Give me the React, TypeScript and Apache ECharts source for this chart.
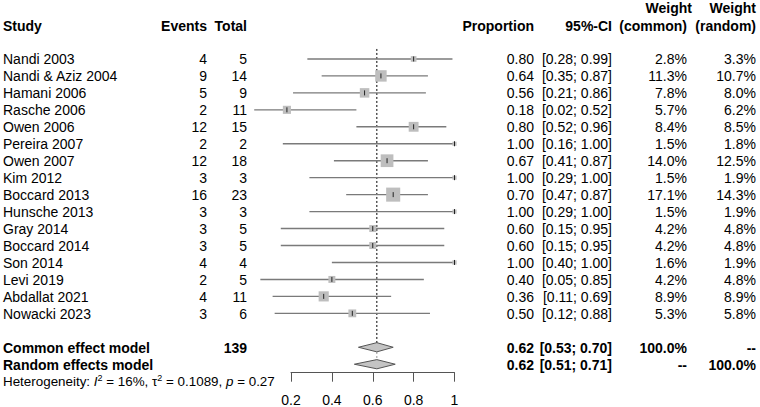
import React, { useEffect, useRef } from "react";
import * as echarts from "echarts";

const studies = [
  "Nandi 2003", "Nandi & Aziz 2004", "Hamani 2006", "Rasche 2006", "Owen 2006",
  "Pereira 2007", "Owen 2007", "Kim 2012", "Boccard 2013", "Hunsche 2013",
  "Gray 2014", "Boccard 2014", "Son 2014", "Levi 2019", "Abdallat 2021", "Nowacki 2023",
];
const events = [4, 9, 5, 2, 12, 2, 12, 3, 16, 3, 3, 3, 4, 2, 4, 3];
const totals = [5, 14, 9, 11, 15, 2, 18, 3, 23, 3, 5, 5, 4, 5, 11, 6];
const proportions = [0.80, 0.64, 0.56, 0.18, 0.80, 1.00, 0.67, 1.00, 0.70, 1.00, 0.60, 0.60, 1.00, 0.40, 0.36, 0.50];
const lowerCI = [0.28, 0.35, 0.21, 0.02, 0.52, 0.16, 0.41, 0.29, 0.47, 0.29, 0.15, 0.15, 0.40, 0.05, 0.11, 0.12];
const upperCI = [0.99, 0.87, 0.86, 0.52, 0.96, 1.00, 0.87, 1.00, 0.87, 1.00, 0.95, 0.95, 1.00, 0.85, 0.69, 0.88];
const weightCommon = [2.8, 11.3, 7.8, 5.7, 8.4, 1.5, 14.0, 1.5, 17.1, 1.5, 4.2, 4.2, 1.6, 4.2, 8.9, 5.3];
const weightRandom = [3.3, 10.7, 8.0, 6.2, 8.5, 1.8, 12.5, 1.9, 14.3, 1.9, 4.8, 4.8, 1.9, 4.8, 8.9, 5.8];

const modelNames = ["Common effect model", "Random effects model"];
const modelEst = [0.62, 0.62];
const modelLower = [0.53, 0.51];
const modelUpper = [0.70, 0.71];
const modelWeightCommon = ["100.0%", "--"];
const modelWeightRandom = ["--", "100.0%"];

const xTicks = [0.2, 0.4, 0.6, 0.8, 1];

const FONT = "'Liberation Sans', Arial, Helvetica, sans-serif";
const colX = { study: 3, events: 207, total: 247, prop: 534, ci: 612, wc: 687, wr: 756 };

export default function App() {
  const ref = useRef<HTMLDivElement>(null);
  useEffect(() => {
    if (!ref.current) return;
    const chart = echarts.init(ref.current, null, { renderer: "svg" });

    const totalN = totals.reduce((a, b) => a + b, 0);
    const rowsText: { row: number; bold: boolean; cells: string[] }[] = [];
    studies.forEach((s, i) => {
      rowsText.push({
        row: i,
        bold: false,
        cells: [
          s,
          String(events[i]),
          String(totals[i]),
          proportions[i].toFixed(2),
          `[${lowerCI[i].toFixed(2)}; ${upperCI[i].toFixed(2)}]`,
          weightCommon[i].toFixed(1) + "%",
          weightRandom[i].toFixed(1) + "%",
        ],
      });
    });
    modelNames.forEach((m, k) => {
      rowsText.push({
        row: studies.length + 1 + k,
        bold: true,
        cells: [
          m,
          "",
          k === 0 ? String(totalN) : "",
          modelEst[k].toFixed(2),
          `[${modelLower[k].toFixed(2)}; ${modelUpper[k].toFixed(2)}]`,
          modelWeightCommon[k],
          modelWeightRandom[k],
        ],
      });
    });
    const xs = [colX.study, colX.events, colX.total, colX.prop, colX.ci, colX.wc, colX.wr];
    const aligns = ["left", "right", "right", "right", "right", "right", "right"];

    const txt = (text: string, x: number, y: number, align: string, bold = false, size = 14) => ({
      type: "text",
      x,
      y,
      style: {
        text,
        fill: "#000",
        font: `${bold ? "bold " : ""}${size}px ${FONT}`,
        textAlign: align,
        textVerticalAlign: "middle",
        align,
        verticalAlign: "middle",
      },
    });

    // rows are plotted at y = -rowIndex (top row 0)
    const rc = (api: any, x: number, row: number) => api.coord([x, -row]);

    const option: any = {
      animation: false,
      grid: { left: 291, top: 42, width: 163.5, height: 330.7 },
      xAxis: {
        type: "value",
        position: "bottom",
        min: 0.2,
        max: 1,
        interval: 0.2,
        axisLine: { show: true, onZero: false, lineStyle: { color: "#555", width: 1 } },
        axisTick: { show: true, inside: false, length: 9, lineStyle: { color: "#555" } },
        axisLabel: {
          margin: 20,
          fontSize: 14,
          color: "#000",
          fontFamily: FONT,
          formatter: (v: number) => {
            const t = xTicks.find((x) => Math.abs(x - v) < 1e-6);
            return t === undefined ? "" : String(t);
          },
        },
        splitLine: { show: false },
      },
      yAxis: { type: "value", min: -18.5, max: 1, show: false },
      graphic: [
        txt("Study", colX.study, 26, "left", true),
        txt("Events", colX.events, 26, "right", true),
        txt("Total", colX.total, 26, "right", true),
        txt("Proportion", colX.prop, 26, "right", true),
        txt("95%-CI", colX.ci, 26, "right", true),
        txt("Weight", 692, 8, "right", true),
        txt("(common)", colX.wc, 26, "right", true),
        txt("Weight", colX.wr, 8, "right", true),
        txt("(random)", colX.wr, 26, "right", true),
        {
          type: "text",
          x: 3,
          y: 381,
          style: {
            text: "Heterogeneity: {it|I}{sup|2} = 16%, {n|τ}{sup|2} = 0.1089, {it|p} = 0.27",
            font: `13.4px ${FONT}`,
            fill: "#000",
            textVerticalAlign: "middle",
            verticalAlign: "middle",
            rich: {
              it: { fontStyle: "italic", fontSize: 13.4, fontFamily: FONT, lineHeight: 16 },
              n: { fontSize: 13.4, fontFamily: FONT, lineHeight: 16 },
              sup: { fontSize: 9, fontFamily: FONT, verticalAlign: "top", lineHeight: 16, padding: [0, 0, 6, 0] },
            },
          },
        },
      ],
      series: [
        {
          type: "custom",
          name: "ref",
          clip: false,
          data: [[modelEst[0], -0.59, 16.76, modelEst[1], 17.28, 17.72]],
          renderItem: (params: any, api: any) => {
            const a = rc(api, api.value(0), api.value(1));
            const b = rc(api, api.value(0), api.value(2));
            const c = rc(api, api.value(3), api.value(4));
            const d = rc(api, api.value(3), api.value(5));
            return {
              type: "group",
              children: [
                { type: "line", shape: { x1: a[0], y1: a[1], x2: b[0], y2: b[1] }, style: { stroke: "#000", lineWidth: 1, lineDash: [2, 2] } },
                { type: "line", shape: { x1: c[0], y1: c[1], x2: d[0], y2: d[1] }, style: { stroke: "#999", lineWidth: 1, lineDash: [2, 2] } },
              ],
            };
          },
        },
        {
          type: "custom",
          name: "studies",
          clip: false,
          data: studies.map((_, i) => [lowerCI[i], upperCI[i], proportions[i], i, weightCommon[i]]),
          renderItem: (params: any, api: any) => {
            const row = api.value(3);
            const a = rc(api, api.value(0), row);
            const b = rc(api, api.value(1), row);
            const c = rc(api, api.value(2), row);
            const s = 3.4 * Math.sqrt(api.value(4));
            return {
              type: "group",
              children: [
                { type: "line", shape: { x1: a[0], y1: a[1], x2: b[0], y2: b[1] }, style: { stroke: "#7a7a7a", lineWidth: 1.4 } },
                { type: "rect", shape: { x: c[0] - s / 2, y: c[1] - s / 2, width: s, height: s }, style: { fill: "#bebebe" } },
                { type: "line", shape: { x1: c[0], y1: c[1] - 2.5, x2: c[0], y2: c[1] + 2.5 }, style: { stroke: "#222", lineWidth: 1 } },
              ],
            };
          },
        },
        {
          type: "custom",
          name: "models",
          clip: false,
          data: modelNames.map((_, k) => [modelLower[k], modelEst[k], modelUpper[k], studies.length + 1 + k]),
          renderItem: (params: any, api: any) => {
            const row = api.value(3);
            const l = rc(api, api.value(0), row);
            const m = rc(api, api.value(1), row);
            const r = rc(api, api.value(2), row);
            const h = 4.6;
            return {
              type: "polygon",
              shape: { points: [[l[0], l[1]], [m[0], m[1] - h], [r[0], r[1]], [m[0], m[1] + h]] },
              style: { fill: "#c4c4c4", stroke: "#555", lineWidth: 1 },
            };
          },
        },
        {
          type: "custom",
          name: "table",
          clip: false,
          data: rowsText.map((r) => [0.2, r.row]),
          renderItem: (params: any, api: any) => {
            const r = rowsText[params.dataIndex];
            const y = rc(api, 0.2, api.value(1))[1] + 0.5;
            return {
              type: "group",
              children: r.cells
                .map((c, j) => (c ? txt(c, xs[j], y, aligns[j], r.bold) : null))
                .filter((e) => e !== null),
            };
          },
        },
      ],
    };
    chart.setOption(option);
    return () => chart.dispose();
  }, []);
  return (
    <div
      ref={ref}
      style={{ position: "fixed", left: 0, top: 0, width: 760, height: 407, background: "#fff" }}
    />
  );
}
